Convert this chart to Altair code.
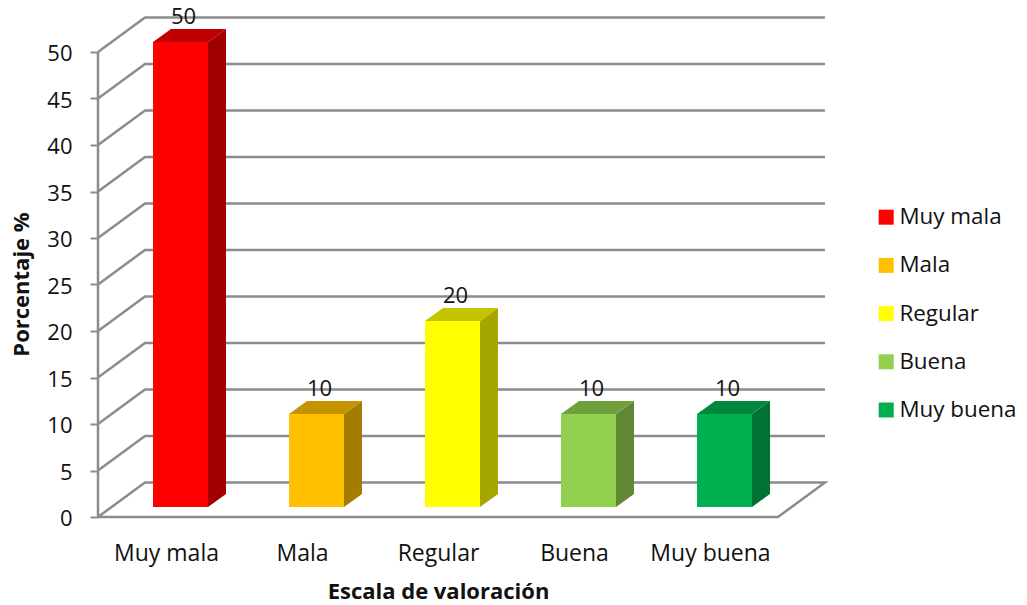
import altair as alt
import pandas as pd

categories = ["Muy mala", "Mala", "Regular", "Buena", "Muy buena"]
values = [50, 10, 20, 10, 10]
front_colors = ["#FF0000", "#FFC000", "#FFFF00", "#92D050", "#00B050"]
side_colors = ["#A00000", "#A67C00", "#A6A600", "#5F8734", "#007234"]
top_colors = ["#C00000", "#C49300", "#C4C400", "#70A03D", "#00873D"]
tick_values = [0, 5, 10, 15, 20, 25, 30, 35, 40, 45, 50]

FONT = "Open Sans"
GREY = "#8C8C8C"
X_MAX = 727 / 136
Y_MAX = 500 / 9.3
WALL_DX, WALL_DY = 47 / 136, 34.5 / 9.3
BAR_DX, BAR_DY = 18 / 136, 13 / 9.3
BAR_SHIFT_X, BAR_SHIFT_Y = 14.5 / 136, 10 / 9.3
HALF = 27.5 / 136
FLOOR_X = 680 / 136

# walls and floor
wall_rows = []
for v in tick_values:
    pts = [(0, v), (WALL_DX, v + WALL_DY), (X_MAX, v + WALL_DY)]
    if v == 0:
        pts += [(FLOOR_X, 0), (0, 0)]
    for k, (x, y) in enumerate(pts):
        wall_rows.append({"x": x, "y": y, "level": v, "k": k})
walls = pd.DataFrame(wall_rows)

front_rows, side_rows, top_rows, label_rows = [], [], [], []
for i, (c, v) in enumerate(zip(categories, values)):
    L = i + 0.5 + BAR_SHIFT_X - HALF
    R = i + 0.5 + BAR_SHIFT_X + HALF
    B = BAR_SHIFT_Y
    T = v + BAR_SHIFT_Y
    front_rows.append({"cat": c, "x": L, "x2": R, "y": B, "y2": T})
    side_rows += [
        {"cat": c, "x": R, "y": B, "y2": T, "col": side_colors[i]},
        {"cat": c, "x": R + BAR_DX, "y": B + BAR_DY, "y2": T + BAR_DY, "col": side_colors[i]},
    ]
    top_rows += [
        {"cat": c, "x": L, "y": T, "y2": T, "col": top_colors[i]},
        {"cat": c, "x": L + BAR_DX, "y": T, "y2": T + BAR_DY, "col": top_colors[i]},
        {"cat": c, "x": R, "y": T, "y2": T + BAR_DY, "col": top_colors[i]},
        {"cat": c, "x": R + BAR_DX, "y": T + BAR_DY, "y2": T + BAR_DY, "col": top_colors[i]},
    ]
    label_rows.append({"x": i + 0.5 + BAR_SHIFT_X + 3 / 136, "y": T + BAR_DY, "t": str(v)})

x_scale = alt.Scale(domain=[0, X_MAX], nice=False, zero=False)
y_scale = alt.Scale(domain=[0, Y_MAX], nice=False, zero=False)

label_expr = "[" + ",".join(f"'{c}'" for c in categories) + "][floor(datum.value)]"
x_axis = alt.Axis(
    values=[i + 0.5 for i in range(len(categories))], labelExpr=label_expr, title="Escala de valoración",
    domain=False, ticks=False, grid=False, labelFont=FONT, labelFontSize=23, labelColor="#111111",
    labelPadding=25, labelAngle=0, titleFont=FONT, titleFontSize=22, titleFontWeight="bold", titleColor="#111111",
    titleX=340, titleY=64, labelOverlap=False,
)
y_axis = alt.Axis(
    values=tick_values, title="Porcentaje %", domain=False, grid=False, tickColor=GREY, tickWidth=2, tickSize=8,
    labelFont=FONT, labelFontSize=22, labelColor="#111111", labelPadding=18, labelOffset=1.5, titleFont=FONT, titleFontSize=22,
    titleFontWeight="bold", titleColor="#111111", titleX=-65, titleY=267,
)

wall_layer = alt.Chart(walls).mark_line(color=GREY, strokeWidth=2.5).encode(
    x=alt.X("x:Q", scale=x_scale, axis=x_axis),
    y=alt.Y("y:Q", scale=y_scale, axis=y_axis),
    detail="level:N",
    order="k:Q",
)
axis_rule = alt.Chart(pd.DataFrame({"x": [0], "y": [0], "y2": [50]})).mark_rule(color=GREY, strokeWidth=2.5).encode(
    x=alt.X("x:Q", scale=x_scale), y=alt.Y("y:Q", scale=y_scale), y2="y2:Q"
)
side_layer = alt.Chart(pd.DataFrame(side_rows)).mark_area().encode(
    x=alt.X("x:Q", scale=x_scale), y=alt.Y("y:Q", scale=y_scale), y2="y2:Q",
    detail="cat:N", color=alt.Color("col:N", scale=None),
)
top_layer = alt.Chart(pd.DataFrame(top_rows)).mark_area().encode(
    x=alt.X("x:Q", scale=x_scale), y=alt.Y("y:Q", scale=y_scale), y2="y2:Q",
    detail="cat:N", color=alt.Color("col:N", scale=None),
)
front_layer = alt.Chart(pd.DataFrame(front_rows)).mark_rect().encode(
    x=alt.X("x:Q", scale=x_scale), x2="x2:Q", y=alt.Y("y:Q", scale=y_scale), y2="y2:Q",
    color=alt.Color(
        "cat:N",
        scale=alt.Scale(domain=categories, range=front_colors),
        sort=categories,
        legend=alt.Legend(
            title=None, orient="none", legendX=777, legendY=189, padding=0, symbolType="square", symbolSize=225,
            symbolStrokeWidth=0, labelFont=FONT, labelFontSize=22.4, labelColor="#111111", rowPadding=25.2, labelOffset=2,
        ),
    ),
)
label_layer = alt.Chart(pd.DataFrame(label_rows)).mark_text(
    font=FONT, fontSize=22, color="#111111", baseline="alphabetic", dy=-5
).encode(x=alt.X("x:Q", scale=x_scale), y=alt.Y("y:Q", scale=y_scale), text="t:N")

chart = (
    alt.layer(wall_layer, axis_rule, side_layer, top_layer, front_layer, label_layer)
    .resolve_scale(color="independent")
    .properties(
        width=727, height=500, background="white",
        autosize=alt.AutoSizeParams(type="none"),
        padding={"left": 90, "top": 9, "right": 194, "bottom": 87},
    )
    .configure_view(stroke=None)
)
chart.save("out.html", embed_options={"renderer": "svg", "actions": False})
